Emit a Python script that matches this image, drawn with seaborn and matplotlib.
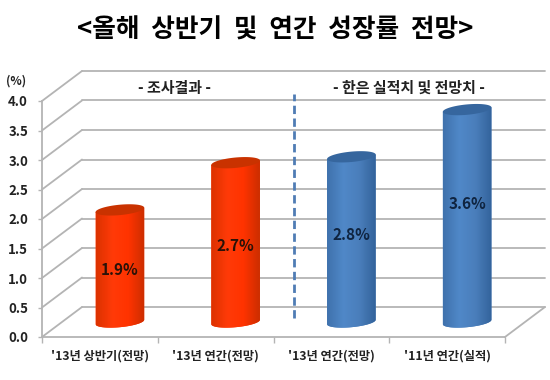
#! /usr/bin/python3
import numpy as np
import matplotlib
matplotlib.use("Agg")
import matplotlib.pyplot as plt
from matplotlib.colors import LinearSegmentedColormap
from matplotlib.patches import Polygon
import seaborn as sns

title = "<올해  상반기  및  연간  성장률  전망>"
categories = ["'13년 상반기(전망)", "'13년 연간(전망)", "'13년 연간(전망)", "'11년 연간(실적)"]
values = [1.9, 2.7, 2.8, 3.6]
value_labels = ["1.9%", "2.7%", "2.8%", "3.6%"]
y_ticks = [0.0, 0.5, 1.0, 1.5, 2.0, 2.5, 3.0, 3.5, 4.0]
group_labels = ["- 조사결과 -", "- 한은 실적치 및 전망치 -"]

sns.set_theme(style="white")
plt.rcParams["font.family"] = ["Noto Sans CJK KR", "DejaVu Sans"]

fig = plt.figure(figsize=(5.5, 3.8), dpi=100, facecolor="white")
ax = fig.add_axes([42 / 550, 43 / 380, 463 / 550, 236 / 380])

# depth of the fake 3d box, in data units
depth_x = 40 / 115.75
depth_y = 30 / 59
grid_color = "#b4b4b4"
text_color = "#222222"

red_grad = ["#dc3200", "#ff3a08", "#ff3300", "#cc2e00"]
blue_grad = ["#3f72ad", "#5088c8", "#4a7ebb", "#33639b"]
styles = [
    ("#c93200", red_grad),
    ("#c93200", red_grad),
    ("#36669e", blue_grad),
    ("#36669e", blue_grad),
]

# the two middle labels are the same text, keep them apart for the categorical axis
bar_keys = categories[:2] + [" " + categories[2], categories[3]]
sns.barplot(
    x=bar_keys,
    y=values,
    palette=[s[1][2] for s in styles],
    hue=bar_keys,
    legend=False,
    width=0.42,
    bottom=depth_y / 2,
    linewidth=0,
    ax=ax,
)

ax.set_xlim(-0.5, 3.5)
ax.set_ylim(0, 4)

# back wall, side wall and floor
for v in y_ticks:
    ax.plot([-0.5 + depth_x, 3.5 + depth_x], [v + depth_y, v + depth_y], color=grid_color, lw=1.3, clip_on=False, zorder=1)
    ax.plot([-0.5, -0.5 + depth_x], [v, v + depth_y], color=grid_color, lw=1.3, clip_on=False, zorder=1)
ax.plot([3.5, 3.5 + depth_x], [0, depth_y], color=grid_color, lw=1.3, clip_on=False, zorder=1)

# turn the flat bars into cylinders
t = np.linspace(0, 2 * np.pi, 80)
ry = 5.2 / 59
tilt = 2.2 / 59
for patch, (top_color, grad_colors) in zip(ax.patches, styles):
    patch.set_x(patch.get_x() + depth_x / 2)
    x0 = patch.get_x()
    w = patch.get_width()
    y0 = patch.get_y()
    y1 = y0 + patch.get_height()
    cx = x0 + w / 2
    patch.set_visible(False)

    ex = w / 2 * np.cos(t)
    ey = ry * np.sin(t) + tilt * np.cos(t)
    lower = np.sin(t) <= 0
    order = np.argsort(ex[lower])
    arc_x = cx + ex[lower][order]
    arc_y = y0 + ey[lower][order]
    body_xy = np.r_[[[x0, y1 - tilt]], np.c_[arc_x, arc_y], [[x0 + w, y1 + tilt]]]
    body = Polygon(body_xy, closed=True, facecolor=grad_colors[2], edgecolor="none", zorder=3)
    ax.add_patch(body)

    cmap = LinearSegmentedColormap.from_list("cyl", grad_colors)
    im = ax.imshow(
        np.linspace(0, 1, 64).reshape(1, -1),
        extent=[x0, x0 + w, y0 - 0.2, y1 + 0.2],
        aspect="auto",
        cmap=cmap,
        zorder=3.1,
    )
    im.set_clip_path(body)
    ax.fill(cx + ex, y1 + ey, color=top_color, lw=0, zorder=4)

ax.set_xlim(-0.5, 3.5)
ax.set_ylim(0, 4)

# value labels sit somewhere in the bar, not on top of it
label_y = [1.13, 1.55, 1.73, 2.25]
label_colors = ["#2a1208", "#2a1208", "#0f2440", "#0f2440"]
for i, txt in enumerate(value_labels):
    ax.text(i + depth_x / 2, label_y[i], txt, ha="center", va="center", fontsize=11,
            fontweight="bold", color=label_colors[i], zorder=5)

# divider between the two groups
ax.plot([1.677, 1.677], [0.32, 4.12], color="#4f7cb4", lw=2, ls=(0, (3, 1.6)), clip_on=False, zorder=2)

ax.text(0.649, 4.22, group_labels[0], ha="center", va="center", fontsize=10.8, fontweight="bold", color=text_color)
ax.text(2.666, 4.22, group_labels[1], ha="center", va="center", fontsize=10.8, fontweight="bold", color=text_color)
ax.text(-0.638, 4.34, "(%)", ha="right", va="center", fontsize=8.5, fontweight="bold", color=text_color)

ax.set_yticks(y_ticks)
ax.set_yticklabels([f"{v:.1f}" for v in y_ticks], fontsize=9.5, fontweight="bold", color=text_color)
ax.set_xticks(np.arange(-0.5, 4.0, 1), minor=True)
ax.set_xticks(range(4))
ax.set_xticklabels(categories, fontsize=8.8, fontweight="bold", color=text_color)
ax.tick_params(axis="x", which="major", length=0, pad=9)
ax.tick_params(axis="x", which="minor", length=4, width=1, color=grid_color, bottom=True)
ax.tick_params(axis="y", length=3, width=1, color=grid_color, pad=7, left=True)
ax.set_xlabel("")
ax.set_ylabel("")
ax.patch.set_alpha(0)

sns.despine(ax=ax)
for s in ["left", "bottom"]:
    ax.spines[s].set_color(grid_color)
    ax.spines[s].set_linewidth(1.3)

fig.text(275 / 550, 1 - 30 / 380, title, ha="center", va="center", fontsize=18.5, fontweight="bold", color="black")

fig.savefig("out.png", dpi=100)
